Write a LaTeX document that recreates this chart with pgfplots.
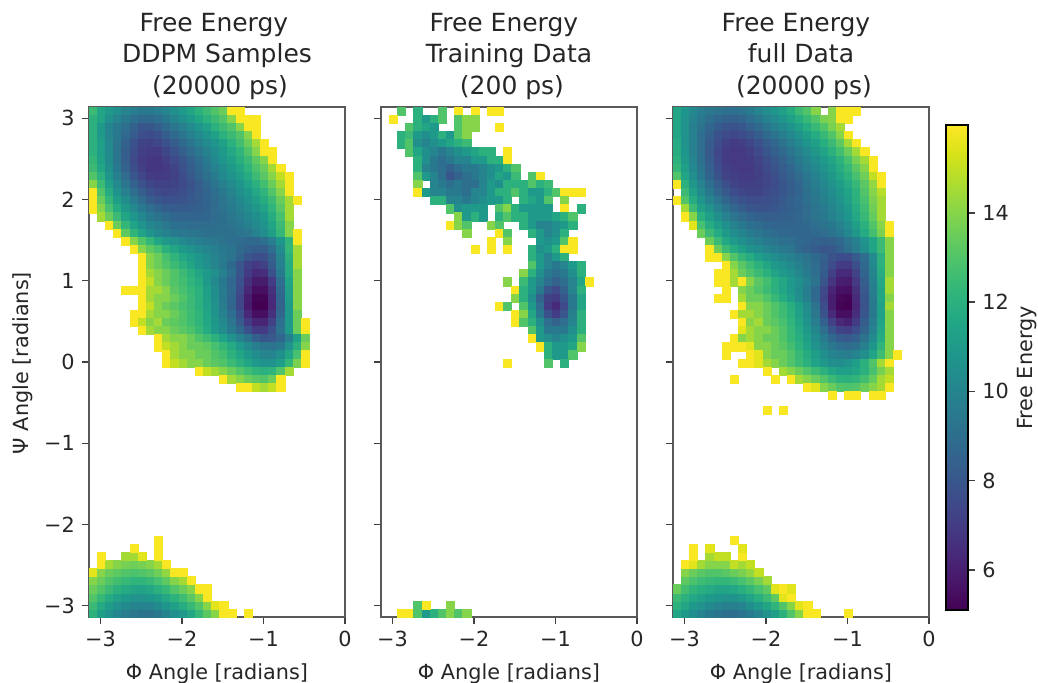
\documentclass[border=0pt]{standalone}
\usepackage{fontspec}
\setmainfont{DejaVu Sans}
\usepackage{pgfplots}
\pgfplotsset{compat=1.18}
\newcommand\R[3]{\addplot[cell] table[row sep=crcr,header=false,meta index=0,x expr={-3.09+0.1*(#2+\coordindex)},y expr=#1]{#3};}
\pgfplotsset{
 cell/.style={scatter,only marks,mark=square*,mark size=2.05pt,line width=0.1pt,forget plot,point meta=explicit,
  scatter/use mapped color={draw=mapped color,fill=mapped color}},
 panel/.style={scale only axis,width=128pt,height=255pt,anchor=south west,
  xmin=-3.14,xmax=0,ymin=-3.14,ymax=3.14,colormap/viridis,point meta min=5.1,point meta max=15.97,
  xtick={-3,-2,-1,0},xticklabels={−3,−2,−1,0},ytick={-3,-2,-1,0,1,2,3},
  tick align=outside,tick pos=left,major tick length=3.6pt,
  axis line style={black!65,line width=0.8pt},every tick/.style={black!75,line width=0.7pt},
  tick label style={font=\fontsize{10.4}{12}\selectfont,text=black!85},
  axis on top},
}
\begin{document}
\begin{tikzpicture}[x=1pt,y=1pt]
\path[use as bounding box] (0,0) rectangle (519,341);
% ---------- panel 1 ----------
\begin{axis}[panel,at={(44.5pt,32.5pt)},yticklabels={−3,−2,−1,0,1,2,3}]
\R{3.09}{0}{12.5\\11.5\\11\\10.5\\10\\9.7\\9.5\\9.5\\9.7\\10\\10.5\\11\\11.5\\12\\12.5\\13\\13.5\\15.9\\15.9\\}
\R{2.99}{0}{12\\11.5\\10.5\\10\\9.5\\9\\8.8\\8.8\\9\\9.5\\10\\10.5\\11\\11.5\\12\\12.5\\13\\14\\15.9\\}
\R{2.99}{19}{15.9\\15.9\\}
\R{2.89}{0}{12\\11\\10\\9.5\\9\\8.5\\8\\8\\8.3\\8.8\\9.3\\9.8\\10.3\\10.8\\11.3\\12\\12.5\\13\\14\\15.9\\15.9\\}
\R{2.79}{0}{12\\11\\10\\9.5\\8.8\\8.2\\7.7\\7.5\\7.8\\8.3\\8.8\\9.3\\9.8\\10.3\\10.8\\11.3\\12\\12.5\\13\\14\\15.9\\}
\R{2.69}{0}{12\\11.2\\10.2\\9.3\\8.5\\7.8\\7.3\\7.2\\7.4\\7.8\\8.3\\8.8\\9.3\\9.8\\10.3\\10.8\\11.3\\12\\12.7\\13.5\\14.5\\15.9\\}
\R{2.59}{0}{12\\11.2\\10.3\\9.3\\8.3\\7.6\\7.1\\7\\7\\7.4\\7.9\\8.4\\8.9\\9.4\\9.9\\10.4\\11\\11.6\\12.2\\13\\14\\15.9\\15.9\\}
\R{2.49}{0}{12.3\\11.3\\10.3\\9.3\\8.3\\7.5\\7\\6.8\\6.8\\7.1\\7.5\\8\\8.5\\9\\9.6\\10.2\\10.8\\11.3\\11.9\\12.5\\13.3\\14\\15.9\\}
\R{2.39}{0}{12.5\\11.5\\10.5\\9.5\\8.5\\7.7\\7.1\\6.8\\6.8\\6.9\\7.3\\7.8\\8.3\\8.8\\9.3\\9.9\\10.4\\11\\11.5\\12.2\\12.9\\13.5\\14.5\\15.9\\}
\R{2.29}{0}{13\\12\\10.8\\9.8\\8.9\\8\\7.4\\7\\6.9\\7\\7.2\\7.6\\8.1\\8.6\\9.1\\9.6\\10.2\\10.7\\11.2\\11.8\\12.5\\13.2\\14\\15\\15.9\\}
\R{2.19}{0}{14\\12.5\\11.3\\10.3\\9.3\\8.5\\7.8\\7.4\\7.2\\7.2\\7.3\\7.5\\7.9\\8.3\\8.8\\9.3\\9.8\\10.3\\10.8\\11.4\\12\\12.7\\13.5\\14.5\\15.9\\}
\R{2.09}{0}{15.9\\13\\11.8\\10.7\\9.8\\9\\8.3\\7.8\\7.5\\7.4\\7.5\\7.7\\8\\8.3\\8.6\\9\\9.5\\10\\10.5\\11\\11.6\\12.2\\13\\14\\15.9\\}
\R{1.99}{0}{15.9\\13.5\\12.3\\11.2\\10.4\\9.6\\8.9\\8.3\\8\\7.8\\7.8\\7.9\\8.1\\8.3\\8.6\\8.9\\9.3\\9.7\\10.2\\10.7\\11.2\\11.8\\12.5\\13.5\\14.5\\15.9\\}
\R{1.89}{0}{15.9\\14\\12.8\\11.8\\10.9\\10.2\\9.5\\9\\8.6\\8.3\\8.2\\8.2\\8.3\\8.4\\8.6\\8.9\\9.2\\9.6\\10\\10.4\\10.9\\11.4\\12.2\\13.2\\14.5\\}
\R{1.79}{1}{14.5\\13.5\\12.5\\11.5\\10.8\\10.1\\9.6\\9.2\\8.9\\8.7\\8.6\\8.6\\8.6\\8.7\\8.9\\9.1\\9.4\\9.7\\10.1\\10.5\\11\\11.8\\12.8\\14.5\\}
\R{1.69}{2}{15.9\\13.5\\12.3\\11.4\\10.7\\10.1\\9.8\\9.4\\9.1\\9\\8.9\\8.9\\8.9\\9\\9.1\\9.2\\9.5\\9.8\\10.2\\10.7\\11.5\\12.5\\14\\}
\R{1.59}{3}{15.9\\13.3\\12.2\\11.4\\10.7\\10.2\\9.9\\9.6\\9.4\\9.3\\9.2\\9.1\\9.1\\9.1\\9.1\\9.2\\9.4\\9.9\\10.4\\11.2\\12.3\\14\\15.9\\}
\R{1.49}{4}{15.9\\14\\13\\12.3\\11.5\\11\\10.6\\10.2\\9.9\\9.7\\9.6\\9.4\\9.2\\9\\8.9\\8.8\\8.8\\9.1\\9.7\\10.8\\12.2\\15.9\\}
\R{1.39}{5}{15.9\\14\\13.3\\12.8\\12\\11.5\\11\\10.6\\10.3\\10\\9.8\\9.5\\9.2\\8.8\\8.5\\8.3\\8.3\\9\\10.3\\12.3\\14.5\\}
\R{1.29}{6}{15.9\\14\\13.5\\12.8\\12.2\\11.6\\11.2\\10.8\\10.4\\10\\9.6\\9.2\\8.6\\8\\7.6\\7.7\\8.5\\10\\12\\14.5\\}
\R{1.19}{6}{15.9\\14\\13.5\\13\\12.5\\12\\11.5\\11\\10.5\\10\\9.5\\8.8\\8\\7.2\\6.9\\7.2\\8.2\\9.8\\11.8\\14.5\\}
\R{1.09}{6}{15.9\\14.5\\14\\13.5\\13\\12.5\\12\\11.5\\11\\10.5\\9.8\\9\\8\\7\\6.4\\6.5\\7.8\\9.6\\11.8\\14\\}
\R{0.99}{6}{15.9\\15\\14\\13.5\\13\\12.7\\12.2\\11.8\\11\\10.2\\9.5\\8.7\\7.8\\6.6\\5.9\\5.9\\7\\9\\11.5\\14\\}
\R{0.89}{6}{15.9\\14.5\\14.5\\14\\13.2\\12.8\\12.4\\12\\11.2\\10.4\\9.6\\8.8\\7.6\\6.3\\5.5\\5.5\\6.6\\8.8\\11.3\\14\\}
\R{0.89}{4}{15.9\\15.9\\}
\R{0.79}{6}{15.9\\14.5\\14\\14\\13.5\\13\\12.5\\12\\11.3\\10.5\\9.6\\8.7\\7.4\\6\\5.2\\5.2\\6.4\\8.6\\11.2\\14\\}
\R{0.69}{6}{15.9\\15\\14\\13.5\\13.2\\12.8\\12.5\\12\\11.4\\10.6\\9.7\\8.7\\7.4\\5.9\\5.1\\5.1\\6.3\\8.5\\11\\14\\}
\R{0.59}{5}{15.9\\15.9\\14.5\\14\\14\\13.5\\13\\12.6\\12.2\\11.5\\10.7\\9.9\\9\\7.8\\6.3\\5.5\\5.5\\6.6\\8.7\\11\\13.5\\}
\R{0.49}{5}{15.9\\15\\14\\14.5\\13.5\\13.3\\13\\12.6\\12.2\\11.6\\10.9\\10.2\\9.3\\8.2\\7\\6.2\\6.2\\7.2\\9\\11\\13.5\\15.9\\}
\R{0.39}{6}{15.9\\14.5\\14\\14\\13.5\\13.2\\12.9\\12.4\\11.7\\11\\10.4\\9.6\\8.8\\7.8\\7\\7\\7.8\\9.2\\11\\13.5\\15.9\\}
\R{0.29}{8}{15.9\\14.5\\14\\14\\13.5\\13\\12.6\\12\\11.4\\10.6\\9.9\\9.2\\8.4\\8\\8.1\\8.7\\9.8\\11.3\\13.5\\}
\R{0.19}{8}{15.9\\15\\14.5\\14\\13.5\\13.5\\13.3\\12.8\\12.3\\11.7\\11\\10.3\\9.7\\9.3\\9.2\\9.5\\10.6\\12\\14\\}
\R{0.09}{9}{15.9\\14.5\\14\\14\\13.5\\13.5\\13\\12.7\\12.1\\11.5\\10.9\\10.4\\10\\10\\10.5\\11.5\\12.8\\15.9\\}
\R{-0.01}{9}{15.9\\15\\14.5\\14\\14\\13.5\\13.2\\13\\12.5\\12\\11.5\\11\\10.6\\10.7\\11.2\\12.3\\13.8\\15.9\\}
\R{-0.11}{13}{15.9\\15\\14.5\\14\\13.5\\13\\12.6\\12.2\\12\\12.2\\13\\14.5\\}
\R{-0.21}{16}{15.9\\14.5\\14\\13.5\\13.2\\13\\13.5\\15.9\\}
\R{-0.31}{18}{15.9\\15.9\\15\\14.5\\15\\15.9\\}
\R{-3.09}{0}{12\\11.2\\10.6\\10.1\\9.7\\9.4\\9.2\\9.2\\9.5\\10\\10.5\\11\\11.6\\12.4\\13.2\\14\\15.9\\15.9\\}
\R{-3.09}{19}{15.9\\}
\R{-2.99}{0}{12.5\\11.7\\11.1\\10.6\\10.3\\10\\9.9\\10\\10.3\\10.8\\11.3\\11.8\\12.4\\13\\14\\15.5\\15.9\\}
\R{-2.89}{0}{13\\12.4\\11.8\\11.3\\11\\10.7\\10.6\\10.8\\11.1\\11.6\\12.1\\12.6\\13.2\\14\\15.9\\}
\R{-2.79}{0}{13.5\\13\\12.5\\12\\11.7\\11.5\\11.4\\11.6\\12\\12.4\\13\\13.5\\14\\15.9\\15.9\\}
\R{-2.69}{0}{14\\13.5\\13\\12.7\\12.4\\12.2\\12.2\\12.4\\12.8\\13.3\\14\\14.5\\15.9\\}
\R{-2.59}{0}{15.5\\14\\13.5\\13.3\\13\\12.9\\13\\13.2\\13.6\\14.2\\15.9\\}
\R{-2.59}{11}{15.9\\}
\R{-2.49}{1}{15.9\\14.5\\14\\13.7\\13.6\\13.7\\14\\14.5\\15.9\\}
\R{-2.39}{1}{15.9\\}
\R{-2.39}{4}{14.5\\14.5\\15.5\\}
\R{-2.39}{8}{15.9\\}
\R{-2.29}{5}{15.9\\}
\R{-2.29}{8}{15.9\\}
\R{-2.19}{8}{15.9\\}
\end{axis}
% ---------- panel 2 ----------
\begin{axis}[panel,at={(190.5pt,32.5pt)},yticklabels={}]
\R{3.09}{2}{13\\}
\R{3.09}{4}{12\\}
\R{3.09}{7}{13\\}
\R{3.09}{9}{15.9\\}
\R{3.09}{11}{15.9\\}
\R{3.09}{13}{15.9\\15.9\\}
\R{2.99}{1}{15.9\\}
\R{2.99}{4}{12\\11\\12\\13\\}
\R{2.99}{9}{13\\14\\14\\}
\R{2.89}{3}{13\\12\\11.5\\11\\}
\R{2.89}{9}{13\\14\\14\\}
\R{2.89}{14}{15.9\\}
\R{2.79}{2}{12\\12.5\\11\\10.5\\11\\12\\11\\13\\14\\}
\R{2.69}{2}{12\\13\\10.5\\10\\10.5\\11\\11.5\\12\\12.5\\}
\R{2.59}{3}{13\\11.5\\10.5\\10\\9.5\\10\\10.5\\11\\11.5\\12\\12\\}
\R{2.59}{15}{15.9\\}
\R{2.49}{4}{12\\10.5\\9.5\\9\\9.5\\10\\10\\11\\11\\12\\12\\}
\R{2.49}{15}{15.9\\}
\R{2.39}{4}{12\\10\\9.5\\9\\8.5\\9\\9.5\\9.5\\10\\10.5\\11\\12\\13\\}
\R{2.29}{4}{13\\11\\10\\9\\8\\8.5\\9\\9.5\\10\\10.5\\11.5\\11\\12.5\\}
\R{2.29}{18}{13\\15.9\\}
\R{2.19}{4}{14\\}
\R{2.19}{6}{10\\9.5\\9\\9.5\\9\\9\\10\\11\\10.5\\12\\12\\12\\13\\12\\12.5\\}
\R{2.09}{4}{15.9\\11\\10\\10\\9.5\\9.5\\9\\10\\10\\11\\12\\12\\13\\}
\R{2.09}{17}{12\\11\\11\\12\\13\\15.9\\15.9\\15.9\\}
\R{1.99}{6}{12\\12\\10\\10\\9.5\\10\\10.5\\11\\11\\12\\}
\R{1.99}{17}{12\\11.5\\11\\13\\}
\R{1.99}{22}{14\\}
\R{1.89}{8}{13\\10.5\\11\\11\\11\\}
\R{1.89}{14}{13\\14\\12\\11\\11\\11\\11\\}
\R{1.89}{22}{15.9\\}
\R{1.89}{24}{12\\}
\R{1.79}{9}{14\\11\\12\\11\\}
\R{1.79}{14}{12\\13\\12\\12\\11\\11\\11\\11.5\\12\\13\\}
\R{1.69}{8}{15.9\\14\\13\\}
\R{1.69}{13}{14\\13\\}
\R{1.69}{17}{12\\11\\10\\10\\10.5\\11\\12\\}
\R{1.59}{10}{14\\}
\R{1.59}{14}{15.9\\13\\}
\R{1.59}{18}{12\\11\\10\\10.5\\12\\}
\R{1.49}{13}{15.9\\}
\R{1.49}{15}{14\\}
\R{1.49}{19}{11\\10.5\\11\\13\\15.9\\}
\R{1.39}{11}{15.9\\}
\R{1.39}{13}{15.9\\}
\R{1.39}{15}{15.9\\}
\R{1.39}{18}{12\\10.5\\11\\12\\15.9\\15.9\\}
\R{1.29}{18}{12\\11\\10\\11\\12\\}
\R{1.19}{18}{13\\11\\10\\9.5\\10\\11\\12\\}
\R{1.09}{17}{14\\12\\10.5\\9.5\\9\\9.5\\10.5\\12\\}
\R{0.99}{15}{14\\}
\R{0.99}{17}{12.5\\11\\10\\9\\8.5\\9\\10\\11.5\\15.9\\}
\R{0.89}{16}{15.9\\12\\11\\9.5\\8\\7.5\\8.5\\10\\12\\}
\R{0.79}{16}{14\\12\\10.5\\8.5\\7.2\\7\\8\\9.5\\11.5\\}
\R{0.69}{14}{15.9\\13\\}
\R{0.69}{17}{13\\11\\9\\7\\6.4\\7.5\\9.5\\11.5\\}
\R{0.59}{16}{15.9\\14\\11.5\\9.5\\7.8\\7\\8\\9.8\\12\\}
\R{0.49}{16}{15.9\\13\\12\\10.5\\9\\8.5\\9\\10\\12\\}
\R{0.39}{18}{13\\11\\9.5\\9.5\\9.5\\10.5\\12\\}
\R{0.29}{18}{15.9\\11\\10.5\\10\\10.5\\11\\13\\}
\R{0.19}{19}{15.9\\12\\11\\11\\11.5\\14\\}
\R{0.09}{20}{12\\11\\11\\13\\}
\R{-0.01}{15}{15.9\\}
\R{-0.01}{20}{13\\}
\R{-0.01}{22}{12\\}
\R{-3.09}{2}{15.9\\15.9\\13\\11\\12\\13\\14\\13\\14\\}
\R{-2.99}{4}{13\\15.9\\}
\R{-2.99}{8}{14\\}
\end{axis}
% ---------- panel 3 ----------
\begin{axis}[panel,at={(336.5pt,32.5pt)},yticklabels={},
 colorbar,colorbar style={at={(parent axis.south east)},anchor=south west,xshift=0pt,yshift=3.5pt,
  scale only axis,width=11pt,height=242.5pt,ytick={6,8,10,12,14},tick align=outside,ytick pos=right,xtick=\empty,
  yticklabel style={font=\fontsize{10.4}{12}\selectfont,text=black!85},/pgf/number format/assume math mode=true,
  axis line style={black,line width=0.8pt},major tick length=3.6pt}]
\R{3.09}{0}{11.5\\10.8\\10.2\\9.7\\9.4\\9.2\\9\\9\\9.2\\9.5\\10\\10.4\\10.8\\11.3\\11.8\\12.5\\13\\14\\}
\R{3.09}{19}{14\\15.9\\}
\R{3.09}{21}{15.9\\15.9\\}
\R{2.99}{0}{11.5\\10.7\\10\\9.5\\9\\8.7\\8.5\\8.4\\8.6\\9\\9.4\\9.9\\10.3\\10.8\\11.3\\11.8\\12.4\\13\\13.8\\14\\15.9\\15.9\\}
\R{2.89}{0}{11.5\\10.6\\9.8\\9.2\\8.7\\8.2\\7.9\\7.8\\8\\8.4\\8.8\\9.3\\9.8\\10.2\\10.7\\11.2\\11.8\\12.4\\13\\13.8\\14.5\\}
\R{2.79}{0}{11.5\\10.6\\9.8\\9\\8.4\\7.8\\7.5\\7.4\\7.6\\7.9\\8.3\\8.8\\9.2\\9.7\\10.2\\10.7\\11.2\\11.8\\12.4\\13\\14\\15.9\\}
\R{2.69}{0}{11.7\\10.7\\9.8\\9\\8.2\\7.6\\7.2\\7\\7.1\\7.4\\7.8\\8.3\\8.7\\9.2\\9.7\\10.2\\10.8\\11.3\\11.9\\12.5\\13.3\\14.5\\15.9\\}
\R{2.59}{0}{11.8\\10.8\\9.8\\9\\8.1\\7.4\\7\\6.9\\6.9\\7.1\\7.5\\8\\8.4\\8.8\\9.3\\9.8\\10.3\\10.9\\11.4\\12\\12.7\\13.5\\14.5\\15.9\\}
\R{2.49}{0}{12\\11\\10\\9.1\\8.2\\7.5\\7\\6.9\\6.9\\7\\7.3\\7.7\\8.1\\8.5\\9\\9.5\\10\\10.5\\11\\11.5\\12.1\\12.8\\13.7\\14.5\\15.9\\}
\R{2.39}{0}{12.3\\11.2\\10.2\\9.3\\8.4\\7.6\\7.1\\7\\6.9\\6.9\\7.2\\7.5\\7.9\\8.3\\8.7\\9.2\\9.7\\10.2\\10.7\\11.2\\11.8\\12.4\\13.2\\14\\15.9\\}
\R{2.29}{0}{13\\11.5\\10.5\\9.5\\8.6\\7.9\\7.3\\7.1\\7\\7\\7.1\\7.4\\7.7\\8.1\\8.5\\8.9\\9.4\\9.9\\10.4\\10.9\\11.5\\12.1\\12.8\\13.6\\15\\15.9\\}
\R{2.19}{0}{15.9\\12\\10.9\\9.9\\9\\8.3\\7.7\\7.3\\7.1\\7.1\\7.2\\7.4\\7.6\\8\\8.3\\8.7\\9.2\\9.7\\10.1\\10.6\\11.1\\11.7\\12.4\\13.2\\14.2\\15.9\\}
\R{2.09}{1}{12.5\\11.3\\10.3\\9.5\\8.7\\8.1\\7.6\\7.4\\7.3\\7.3\\7.5\\7.7\\8\\8.3\\8.6\\9.1\\9.5\\9.9\\10.4\\10.9\\11.4\\12.1\\13\\14\\14.8\\}
\R{1.99}{0}{15.9\\13\\11.8\\10.8\\10\\9.3\\8.6\\8.1\\7.8\\7.6\\7.6\\7.7\\7.9\\8.1\\8.4\\8.7\\9\\9.4\\9.8\\10.2\\10.7\\11.3\\12\\12.8\\13.8\\14.5\\}
\R{1.89}{1}{14.5\\12.5\\11.3\\10.6\\9.9\\9.2\\8.7\\8.3\\8\\7.9\\7.9\\8\\8.2\\8.4\\8.6\\8.9\\9.3\\9.6\\10\\10.5\\11\\11.8\\12.6\\13.6\\14.5\\}
\R{1.79}{1}{15.9\\14\\12\\11.2\\10.5\\9.9\\9.3\\8.9\\8.6\\8.4\\8.3\\8.3\\8.4\\8.5\\8.7\\8.9\\9.2\\9.5\\9.9\\10.3\\10.8\\11.6\\12.4\\13.4\\14.5\\}
\R{1.69}{2}{15.5\\12.8\\11.8\\11.1\\10.5\\9.9\\9.5\\9.1\\8.9\\8.7\\8.6\\8.6\\8.6\\8.7\\8.8\\9\\9.2\\9.5\\9.9\\10.4\\11.2\\12\\13\\14\\15.9\\}
\R{1.59}{3}{13.5\\12.5\\11.7\\11\\10.4\\10\\9.6\\9.3\\9.1\\8.9\\8.8\\8.7\\8.7\\8.7\\8.8\\8.9\\9.2\\9.6\\10.1\\10.9\\11.7\\12.7\\13.8\\15.9\\}
\R{1.49}{4}{13.5\\12.5\\11.6\\11\\10.5\\10.1\\9.8\\9.5\\9.3\\9.1\\9\\8.8\\8.7\\8.5\\8.4\\8.5\\8.8\\9.3\\9.8\\10.6\\11.5\\12.5\\14\\}
\R{1.39}{4}{15.9\\13.5\\12.5\\11.8\\11.2\\10.7\\10.4\\10\\9.7\\9.5\\9.3\\8.8\\8.5\\8.2\\8\\8.1\\8.5\\9.1\\9.7\\10.5\\11.4\\12.5\\14\\}
\R{1.29}{4}{15.9\\15.9\\}
\R{1.29}{6}{14\\13\\12.3\\11.8\\11.2\\10.8\\10.4\\10.1\\9.8\\9.5\\9.2\\8.8\\8.4\\7.9\\7.6\\7.6\\8.2\\9\\10.3\\12\\14\\}
\R{1.19}{6}{15.9\\14\\13.2\\12.6\\12\\11.5\\11\\10.6\\10.2\\9.8\\9.4\\8.9\\8.3\\7.6\\7\\7\\7.7\\8.8\\10.2\\12\\14\\}
\R{1.09}{5}{15.9\\15.9\\14.5\\13.5\\13\\12.5\\12\\11.4\\11\\10.6\\10.1\\9.6\\9\\8.2\\7.2\\6.4\\6.4\\7.3\\8.6\\10\\11.8\\14\\}
\R{0.99}{5}{15.9\\15.9\\14.5\\15.9\\14\\13.2\\12.7\\12\\11.6\\11\\10.5\\9.9\\9.2\\8\\6.8\\6\\5.9\\6.9\\8.3\\9.8\\11.6\\14.5\\}
\R{0.89}{6}{15.9\\}
\R{0.89}{8}{14\\13.5\\13\\12.5\\12\\11.5\\11\\10.4\\9.7\\8.8\\7.5\\6.2\\5.6\\5.5\\6.6\\8.1\\9.7\\11.5\\14.5\\}
\R{0.79}{5}{15.9\\15.9\\}
\R{0.79}{8}{14.5\\13.5\\13.5\\13\\12.4\\11.8\\11.2\\10.5\\9.8\\8.8\\7.4\\6\\5.3\\5.2\\6.4\\8\\9.6\\11.5\\14\\}
\R{0.69}{8}{15.9\\14\\14\\13.5\\13\\12.5\\11.9\\11.2\\10.3\\9.2\\7.6\\6\\5.2\\5.1\\6.3\\7.9\\9.5\\11.3\\14.5\\}
\R{0.59}{7}{15.9\\14.5\\14.5\\14\\13.5\\13\\12.6\\12\\11.3\\10.5\\9.4\\7.9\\6.4\\5.5\\5.5\\6.5\\8\\9.5\\11.3\\14\\}
\R{0.49}{8}{15.9\\14\\14.5\\13.5\\13.2\\12.8\\12.2\\11.5\\10.7\\9.7\\8.4\\7.2\\6.3\\6.1\\7\\8.3\\9.7\\11.4\\14\\}
\R{0.39}{8}{15.5\\14.5\\14\\14\\13.5\\13\\12.4\\11.7\\11\\10.1\\9\\8\\7.3\\7.1\\7.6\\8.6\\9.9\\11.6\\14\\}
\R{0.29}{7}{15.9\\14\\14.5\\14\\13.5\\13.5\\13\\12.4\\11.9\\11.2\\10.4\\9.6\\8.8\\8.2\\8.1\\8.4\\9.2\\10.3\\11.8\\14\\}
\R{0.19}{6}{15.9\\15.9\\15.9\\15.5\\14\\14\\13.5\\13.2\\12.7\\12.1\\11.4\\10.7\\10\\9.4\\9\\8.9\\9.1\\9.8\\10.8\\12.2\\14\\}
\R{0.09}{6}{15.9\\}
\R{0.09}{9}{15.9\\15.5\\14\\13.5\\13.5\\13\\12.4\\11.8\\11.2\\10.5\\10\\9.8\\9.7\\10\\10.5\\11.4\\12.6\\14\\15.9\\}
\R{-0.01}{8}{15.9\\15.9\\15.5\\14.5\\14\\13.5\\13\\12.5\\12\\11.4\\10.9\\10.5\\10.4\\10.7\\11.2\\12\\13\\14.5\\15.9\\}
\R{-0.11}{11}{15.9\\}
\R{-0.11}{13}{14.5\\14\\13.5\\13\\12.5\\12\\11.5\\11.2\\11.2\\11.5\\12\\12.8\\13.7\\14.5\\}
\R{-0.21}{7}{15.9\\}
\R{-0.21}{12}{15.9\\}
\R{-0.21}{14}{15.9\\14.5\\14\\13.5\\13\\12.5\\12.1\\12\\12.2\\12.7\\13.4\\14.5\\15\\}
\R{-0.31}{16}{15.9\\15.5\\14\\13.5\\13\\12.9\\13\\13.5\\14\\14.5\\15.9\\}
\R{-0.41}{19}{15.9\\}
\R{-0.41}{21}{15.9\\15.9\\}
\R{-0.41}{24}{15.9\\}
\R{-0.41}{25}{15.9\\}
\R{-0.59}{11}{15.9\\}
\R{-0.59}{13}{15.9\\}
\R{-3.09}{0}{11.5\\11\\10.4\\10\\9.6\\9.3\\9.1\\9\\9.2\\9.6\\10\\10.6\\11.2\\12\\13\\14\\15.9\\15.9\\}
\R{-3.09}{21}{15.9\\}
\R{-2.99}{0}{12\\11.5\\11\\10.6\\10.3\\10\\9.8\\9.8\\10\\10.5\\11\\11.5\\12.2\\13\\14\\15.5\\15.9\\}
\R{-2.89}{0}{12.5\\12\\11.6\\11.3\\11\\10.8\\10.6\\10.7\\11\\11.4\\11.9\\12.5\\13.3\\15.5\\15.9\\}
\R{-2.79}{0}{13.5\\12.7\\12.2\\11.9\\11.7\\11.5\\11.4\\11.6\\11.9\\12.3\\12.8\\13.3\\15.5\\15.9\\15.5\\}
\R{-2.69}{1}{13.3\\12.9\\12.6\\12.4\\12.3\\12.3\\12.5\\12.8\\13.2\\13.7\\14.5\\}
\R{-2.59}{1}{14\\13.5\\13.2\\13\\13\\13.2\\13.5\\13.8\\14.2\\15\\}
\R{-2.49}{1}{15.9\\15.5\\14.5\\14\\14\\14\\15\\14.5\\15\\}
\R{-2.39}{2}{15.9\\}
\R{-2.39}{4}{14.5\\15\\15\\}
\R{-2.39}{8}{15.9\\}
\R{-2.29}{2}{15.9\\}
\R{-2.29}{4}{15.5\\}
\R{-2.29}{8}{15.5\\}
\R{-2.19}{7}{15.9\\}
\end{axis}
% ---------- texts ----------
\def\tf{\fontsize{12.5}{15}\selectfont}
\def\lf{\fontsize{10.4}{12}\selectfont}
\foreach \x/\y/\t in {107/325/Free Energy,108.5/309.5/DDPM Samples,110/294/(20000 ps),
 252/325/Free Energy,254.5/309.5/Training Data,256/294/(200 ps),
 398/325/Free Energy,400.5/309.5/full Data,402/294/(20000 ps)}
 \node[font=\tf,text=black!85,inner sep=0pt,anchor=base] at (\x,\y) {\t};
\foreach \x in {108.5,254.5,400.5}
 \node[font=\lf,text=black!85,inner sep=0pt,anchor=base] at (\x,1.5) {Φ Angle [radians]};
\node[font=\lf,text=black!85,inner sep=0pt,rotate=90,anchor=base] at (14,159.5) {Ψ Angle [radians]};
\node[font=\lf,text=black!85,inner sep=0pt,rotate=90,anchor=base] at (516,157) {Free Energy};
\end{tikzpicture}
\end{document}
